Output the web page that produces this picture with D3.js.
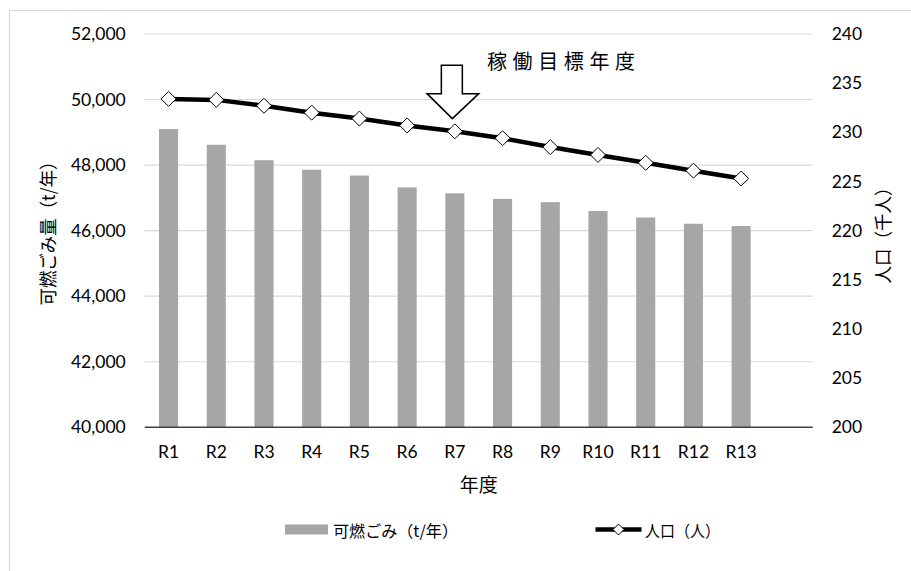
<!DOCTYPE html>
<html><head><meta charset="utf-8">
<script src="https://cdn.jsdelivr.net/npm/d3@7/dist/d3.min.js"></script>
<style>
html,body{margin:0;padding:0;background:#fff;overflow:hidden;}
text{fill:#000;}
</style></head>
<body>
<svg id="chart" width="911" height="571"></svg>
<script>
const categories = ["R1","R2","R3","R4","R5","R6","R7","R8","R9","R10","R11","R12","R13"];
const garbage = [49100,48620,48150,47860,47680,47320,47140,46970,46870,46600,46400,46210,46140];
const population = [233.4,233.3,232.7,232.0,231.4,230.7,230.1,229.4,228.5,227.7,226.9,226.1,225.3];
const leftTicks = [40000,42000,44000,46000,48000,50000,52000];
const rightTicks = [200,205,210,215,220,225,230,235,240];
const seriesNames = ["可燃ごみ（t/年）","人口（人）"];
const targetYear = "R7";
const annotationText = "稼働目標年度";

const svg = d3.select("#chart");
const L = 144.7, R = 812.7, T = 34, B = 427.3;
const numFont = "Lato, 'Open Sans', sans-serif";
const jpFont = "'Noto Sans CJK JP', sans-serif";

// outer border
svg.append("rect").attr("x",9.5).attr("y",10.5).attr("width",1000).attr("height",1000)
  .attr("fill","none").attr("stroke","#d9d9d9").attr("stroke-width",1.2);

const slots = categories.concat([""]);
const x = d3.scaleBand().domain(slots).range([L,R]).paddingInner(0.6).paddingOuter(0.3);
const yL = d3.scaleLinear().domain([40000,52000]).range([B,T]);
const yR = d3.scaleLinear().domain([200,240]).range([B,T]);

// gridlines
svg.append("g").selectAll("line").data(leftTicks.filter(t=>t>40000)).join("line")
  .attr("x1",L).attr("x2",R).attr("y1",d=>yL(d)).attr("y2",d=>yL(d))
  .attr("stroke","#d9d9d9").attr("stroke-width",1.2);

// bars
svg.append("g").selectAll("rect").data(garbage).join("rect")
  .attr("x",(d,i)=>x(categories[i])).attr("width",x.bandwidth())
  .attr("y",d=>yL(d)).attr("height",d=>B-yL(d))
  .attr("fill","#a6a6a6");

// bottom axis line
svg.append("line").attr("x1",L).attr("x2",R).attr("y1",B).attr("y2",B)
  .attr("stroke","#404040").attr("stroke-width",1.6);

// left axis labels
const fmt = d3.format(",");
const gL = svg.append("g").attr("transform",`translate(${L-19},0)`)
  .call(d3.axisLeft(yL).tickValues(leftTicks).tickFormat(fmt).tickSize(0).tickPadding(0));
gL.select(".domain").remove();
gL.selectAll("text").attr("font-family",numFont).attr("font-size",17.5).attr("fill","#000");

// right axis labels
const gR = svg.append("g").attr("transform",`translate(${R+19},0)`)
  .call(d3.axisRight(yR).tickValues(rightTicks).tickSize(0).tickPadding(0));
gR.select(".domain").remove();
gR.selectAll("text").attr("font-family",numFont).attr("font-size",17.5).attr("fill","#000");

// bottom axis labels
const gB = svg.append("g").attr("transform",`translate(0,${B+18})`)
  .call(d3.axisBottom(x).tickValues(categories).tickSize(0).tickPadding(0));
gB.select(".domain").remove();
gB.selectAll("text").attr("font-family",numFont).attr("font-size",17.5).attr("fill","#000");

// line
const cx = (i)=>x(categories[i])+x.bandwidth()/2;
svg.append("path").datum(population)
  .attr("d",d3.line().x((d,i)=>cx(i)).y(d=>yR(d)))
  .attr("fill","none").attr("stroke","#000").attr("stroke-width",4.5).attr("stroke-linejoin","round");
const diamond = (s)=>`M0,${-s}L${s},0L0,${s}L${-s},0Z`;
svg.append("g").selectAll("path").data(population).join("path")
  .attr("transform",(d,i)=>`translate(${cx(i)},${yR(d)})`)
  .attr("d",diamond(7.5)).attr("fill","#fff").attr("stroke","#000").attr("stroke-width",1);

// axis titles
svg.append("text").attr("transform","translate(47,229) rotate(-90)")
  .attr("text-anchor","middle").attr("dominant-baseline","central")
  .attr("font-family",jpFont).attr("font-size",18.5)
  .attr("textLength",153).attr("lengthAdjust","spacingAndGlyphs")
  .text("可燃ごみ量（t/年）");
svg.append("text").attr("transform","translate(882,231) rotate(-90)")
  .attr("text-anchor","middle").attr("dominant-baseline","central")
  .attr("font-family",jpFont).attr("font-size",18.5)
  .attr("textLength",105).attr("lengthAdjust","spacingAndGlyphs")
  .text("人口（千人）");
svg.append("text").attr("x",(L+R)/2).attr("y",483)
  .attr("text-anchor","middle").attr("dominant-baseline","central")
  .attr("font-family",jpFont).attr("font-size",19)
  .text("年度");

// annotation arrow
const ax = x(targetYear)+x.bandwidth()/2 - 2.5;
const tipY = yR(population[categories.indexOf(targetYear)]) - 12.7;
const arrow = `M${ax-11},${tipY-53.3} L${ax+10},${tipY-53.3} L${ax+10},${tipY-25} L${ax+26.4},${tipY-25} L${ax},${tipY} L${ax-25.3},${tipY-25} L${ax-11},${tipY-25} Z`;
svg.append("path").attr("d",arrow).attr("fill","#fff").attr("stroke","#000").attr("stroke-width",1.5);
svg.append("text").attr("x",487).attr("y",60).attr("dominant-baseline","central")
  .attr("font-family",jpFont).attr("font-size",20)
  .attr("textLength",148).attr("lengthAdjust","spacing")
  .text(annotationText);

// legend
const lg = svg.append("g");
lg.append("rect").attr("x",285).attr("y",524.5).attr("width",43).attr("height",10).attr("fill","#a6a6a6");
lg.append("text").attr("x",333).attr("y",529.5).attr("dominant-baseline","central")
  .attr("font-family",jpFont).attr("font-size",16)
  .attr("textLength",125).attr("lengthAdjust","spacingAndGlyphs")
  .text(seriesNames[0]);
lg.append("line").attr("x1",595.5).attr("x2",641.5).attr("y1",529.5).attr("y2",529.5)
  .attr("stroke","#000").attr("stroke-width",4.5);
lg.append("path").attr("transform","translate(618.5,529.5)").attr("d",diamond(5.5))
  .attr("fill","#fff").attr("stroke","#000").attr("stroke-width",1);
lg.append("text").attr("x",645).attr("y",529.5).attr("dominant-baseline","central")
  .attr("font-family",jpFont).attr("font-size",16)
  .attr("textLength",75).attr("lengthAdjust","spacingAndGlyphs")
  .text(seriesNames[1]);
</script>
</body></html>
